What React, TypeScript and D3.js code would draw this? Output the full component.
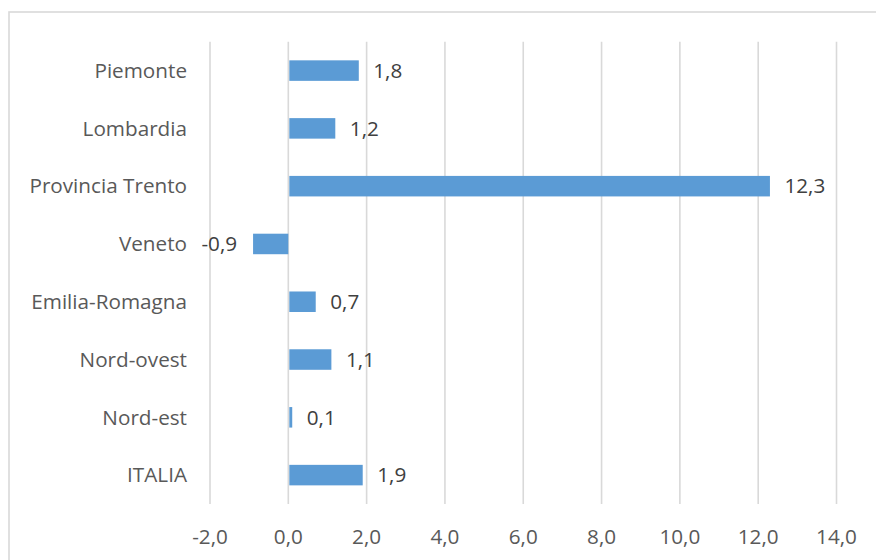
import React from "react";
import * as d3 from "d3";

const categories = [
  "Piemonte",
  "Lombardia",
  "Provincia Trento",
  "Veneto",
  "Emilia-Romagna",
  "Nord-ovest",
  "Nord-est",
  "ITALIA",
];
const values = [1.8, 1.2, 12.3, -0.9, 0.7, 1.1, 0.1, 1.9];
const xTicks = [-2, 0, 2, 4, 6, 8, 10, 12, 14];

const W = 876;
const H = 560;
const FONT = "'Open Sans', 'DejaVu Sans', sans-serif";
const BAR = "#5B9BD5";
const FS = 20.7;

const fmt = (v: number) => v.toFixed(1).replace(".", ",");

export default function App() {
  const x = d3.scaleLinear().domain([-2, 14]).range([210, 836.5]);
  const y = d3
    .scaleBand<string>()
    .domain(categories)
    .range([41.7, 504])
    .paddingInner(0.645)
    .paddingOuter(0.3225);

  return (
    <svg
      width={W}
      height={H}
      style={{ position: "absolute", left: 0, top: 0, background: "#fff" }}
      fontFamily={FONT}
    >
      <rect x={9} y={12} width={W + 20} height={H + 20} fill="#fff" stroke="#d9d9d9" strokeWidth={1.6} />

      {xTicks.map((t) => (
        <line
          key={`g${t}`}
          x1={x(t)}
          x2={x(t)}
          y1={41.7}
          y2={504}
          stroke="#d9d9d9"
          strokeWidth={1.6}
        />
      ))}

      {categories.map((c, i) => {
        const v = values[i];
        const x0 = x(Math.min(0, v)) + (v >= 0 ? 1 : 0);
        const x1 = x(Math.max(0, v));
        const yy = y(c)!;
        const bh = y.bandwidth();
        const cy = yy + bh / 2;
        return (
          <g key={c}>
            <rect x={x0} y={yy} width={Math.max(0, x1 - x0)} height={bh} fill={BAR} />
            <text
              x={187}
              y={cy}
              dy="0.35em"
              textAnchor="end"
              fontSize={FS}
              fill="#595959"
            >
              {c}
            </text>
            <text
              x={v >= 0 ? x(v) + 14.5 : x(v) - 16}
              y={cy}
              dy="0.35em"
              textAnchor={v >= 0 ? "start" : "end"}
              fontSize={FS}
              fill="#404040"
            >
              {fmt(v)}
            </text>
          </g>
        );
      })}

      {xTicks.map((t) => (
        <text
          key={`t${t}`}
          x={x(t)}
          y={537}
          dy="0.35em"
          textAnchor="middle"
          fontSize={FS}
          fill="#595959"
        >
          {fmt(t)}
        </text>
      ))}
    </svg>
  );
}
